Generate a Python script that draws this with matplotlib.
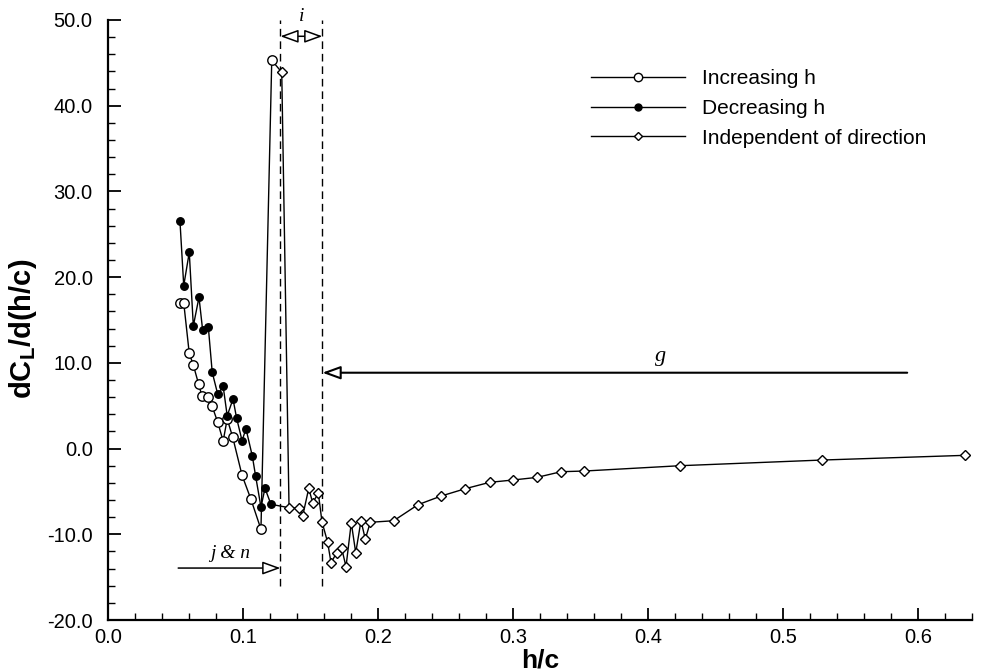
import matplotlib
matplotlib.use("Agg")
import matplotlib.pyplot as plt
from matplotlib.lines import Line2D
from matplotlib.ticker import MultipleLocator, FormatStrFormatter

plt.rcParams['font.family'] = ['Liberation Sans', 'DejaVu Sans']
plt.rcParams['mathtext.fontset'] = 'custom'
plt.rcParams['mathtext.bf'] = 'Liberation Sans:bold'
plt.rcParams['mathtext.rm'] = 'Liberation Sans'
plt.rcParams['mathtext.it'] = 'Liberation Sans:italic'

# Increasing h (open circles)
inc_hc = [0.0533, 0.0561, 0.0602, 0.0632, 0.0671, 0.0696, 0.0743, 0.0770,
          0.0813, 0.0853, 0.0883, 0.0924, 0.0993, 0.1059, 0.1133, 0.1213]
inc_dcl = [17.0, 17.0, 11.1, 9.75, 7.53, 6.13, 6.05, 5.0,
           3.06, 0.88, 3.45, 1.31, -3.12, -5.92, -9.42, 45.3]

# Decreasing h (filled circles)
dec_hc = [0.0533, 0.0561, 0.0602, 0.0632, 0.0674, 0.0701, 0.0743, 0.0772,
          0.0813, 0.0853, 0.0883, 0.0926, 0.0953, 0.0993, 0.1022, 0.1069,
          0.1093, 0.1133, 0.1163, 0.1207]
dec_dcl = [26.55, 19.0, 22.9, 14.3, 17.65, 13.83, 14.2, 8.9,
           6.33, 7.26, 3.83, 5.78, 3.53, 0.92, 2.31, -0.87,
           -3.17, -6.82, -4.64, -6.5]

# Independent of direction (diamonds)
ind_hc = [0.1287, 0.1341, 0.1415, 0.1442, 0.1487, 0.1516, 0.1558, 0.1585,
          0.1627, 0.1652, 0.1694, 0.1730, 0.1763, 0.1802, 0.1835, 0.1874,
          0.1906, 0.1943, 0.2116, 0.2296, 0.2467, 0.2647, 0.2827, 0.2998,
          0.3178, 0.3356, 0.3528, 0.4237, 0.5286, 0.6348]
ind_dcl = [43.9, -6.9, -6.97, -7.87, -4.64, -6.31, -5.22, -8.53,
           -10.94, -13.32, -12.15, -11.57, -13.78, -8.65, -12.15, -8.42,
           -10.56, -8.6, -8.42, -6.55, -5.54, -4.68, -3.94, -3.67,
           -3.36, -2.7, -2.62, -2.0, -1.34, -0.79]

# Regime boundaries and annotation arrows
bound_hc = [0.1277, 0.1588]
i_arrow_y = 48.1
g_arrow = dict(x_from=0.592, x_to=0.1588, y=8.85)
jn_arrow = dict(x_from=0.052, x_to=0.1277, y=-13.94)

fig = plt.figure(figsize=(9.83, 6.72), dpi=100)
ax = fig.add_axes([108 / 983, 52 / 672, 864 / 983, 600 / 672])

lw = 1.0
# connecting lines (each direction branch joins the direction-independent curve)
ax.plot(inc_hc + [ind_hc[0]], inc_dcl + [ind_dcl[0]], color='black', lw=lw, zorder=2)
ax.plot(dec_hc + [ind_hc[1]], dec_dcl + [ind_dcl[1]], color='black', lw=lw, zorder=2)
ax.plot(ind_hc, ind_dcl, color='black', lw=lw, zorder=2)

ax.plot(inc_hc, inc_dcl, ls='none', marker='o', ms=6.8, mfc='white', mec='black', mew=1.0, zorder=3)
ax.plot(dec_hc, dec_dcl, ls='none', marker='o', ms=5.4, mfc='black', mec='black', mew=1.0, zorder=4)
ax.plot(ind_hc, ind_dcl, ls='none', marker='D', ms=5.2, mfc='white', mec='black', mew=1.0, zorder=3)

# dashed boundaries
for xb in bound_hc:
    ax.plot([xb, xb], [-16.0, 50.0], color='black', lw=1.0, ls=(0, (5.5, 3.5)),
            zorder=1, clip_on=False)

head = '-|>,head_length=0.55,head_width=0.2'
ap = dict(arrowstyle=head, fc='white', ec='black', lw=1.1, mutation_scale=20,
          shrinkA=0, shrinkB=0)
ax.annotate('', xy=(bound_hc[1], i_arrow_y), xytext=(bound_hc[0], i_arrow_y),
            arrowprops=dict(ap, arrowstyle='<|-|>,head_length=0.55,head_width=0.2'),
            annotation_clip=False)
ax.text((bound_hc[0] + bound_hc[1]) / 2, 50.35, 'i', family='Liberation Serif',
        style='italic', fontsize=14, ha='center', va='center', clip_on=False)

ax.annotate('', xy=(g_arrow['x_to'], g_arrow['y']), xytext=(g_arrow['x_from'], g_arrow['y']),
            arrowprops=dict(ap, lw=1.5))
ax.text(0.409, 9.6, 'g', family='Liberation Serif', style='italic', fontsize=16,
        ha='center', va='bottom')

ax.annotate('', xy=(jn_arrow['x_to'], jn_arrow['y']), xytext=(jn_arrow['x_from'], jn_arrow['y']),
            arrowprops=ap)
ax.text(0.0904, -13.2, 'j & n', family='Liberation Serif', style='italic', fontsize=14,
        ha='center', va='bottom')

ax.set_xlim(0, 0.64)
ax.set_ylim(-20, 50)
for s in ('top', 'right'):
    ax.spines[s].set_visible(False)
for s in ('left', 'bottom'):
    ax.spines[s].set_linewidth(1.6)

ax.xaxis.set_major_locator(MultipleLocator(0.1))
ax.xaxis.set_minor_locator(MultipleLocator(0.02))
ax.yaxis.set_major_locator(MultipleLocator(10))
ax.yaxis.set_minor_locator(MultipleLocator(2))
ax.xaxis.set_major_formatter(FormatStrFormatter('%.1f'))
ax.yaxis.set_major_formatter(FormatStrFormatter('%.1f'))
ax.tick_params(which='major', direction='in', length=9, width=1.3, labelsize=14.5)
ax.tick_params(which='minor', direction='in', length=5, width=1.0)
ax.tick_params(axis='x', which='major', pad=6)
ax.tick_params(axis='y', which='major', pad=11)

ax.set_xlabel('h/c', fontsize=19, fontweight='bold')
ax.xaxis.set_label_coords(0.5, -0.047)
ax.xaxis.label.set_va('top')
ax.set_ylabel(r'$\mathbf{dC_L/d(h/c)}$', fontsize=21)
ax.yaxis.set_label_coords(-0.08, 0.485)

handles = [
    Line2D([], [], color='black', lw=lw, marker='o', ms=6, mfc='white', mec='black'),
    Line2D([], [], color='black', lw=lw, marker='o', ms=5, mfc='black', mec='black'),
    Line2D([], [], color='black', lw=lw, marker='D', ms=4.5, mfc='white', mec='black'),
]
labels = ['Increasing h', 'Decreasing h', 'Independent of direction']
ax.legend(handles, labels, loc='upper left', bbox_to_anchor=(591 / 983, 1 - 69 / 672),
          bbox_transform=fig.transFigure, frameon=False, fontsize=15, numpoints=1,
          handlelength=4.5, handletextpad=0.85, labelspacing=0.52, borderpad=0,
          borderaxespad=0)

fig.savefig('out.png', dpi=100)
